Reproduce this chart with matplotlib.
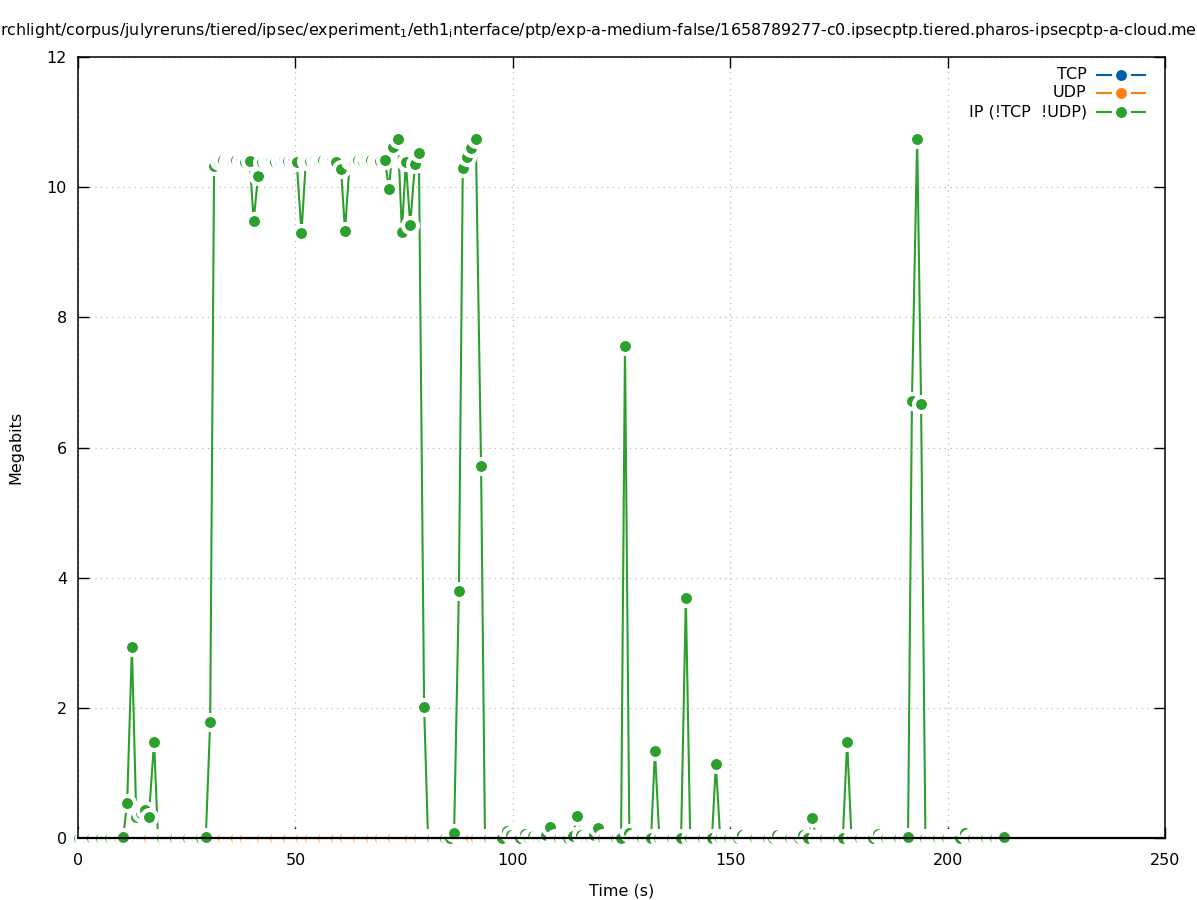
import matplotlib
matplotlib.use("Agg")
import matplotlib.pyplot as plt
from matplotlib.lines import Line2D

# ---------------- data ----------------
time_s = [
    0.3, 1.3, 2.3, 3.3, 4.3, 5.3, 6.4, 7.4, 8.4, 9.4,
    10.4, 11.3, 12.4, 13.4, 14.4, 15.4, 16.3, 17.5, 18.4, 19.4,
    20.4, 21.4, 22.4, 23.4, 24.4, 25.4, 26.4, 27.4, 28.4, 29.4,
    30.4, 31.3, 32.4, 33.4, 34.4, 35.4, 36.4, 37.4, 38.4, 39.5,
    40.4, 41.4, 42.4, 43.4, 44.4, 45.4, 46.4, 47.4, 48.4, 49.4,
    50.3, 51.4, 52.4, 53.4, 54.4, 55.4, 56.4, 57.4, 58.4, 59.4,
    60.5, 61.4, 62.5, 63.5, 64.5, 65.5, 66.5, 67.5, 68.5, 69.5,
    70.6, 71.5, 72.4, 73.6, 74.5, 75.4, 76.4, 77.5, 78.4, 79.6,
    80.5, 81.5, 82.5, 83.5, 84.5, 85.5, 86.5, 87.6, 88.5, 89.5,
    90.4, 91.5, 92.7, 93.6, 94.6, 95.6, 96.6, 97.6, 98.7, 99.7,
    100.7, 101.7, 102.7, 103.7, 104.7, 105.7, 106.7, 107.7, 108.6, 109.7,
    110.7, 111.7, 112.8, 113.8, 114.8, 115.8, 116.8, 117.7, 118.7, 119.6,
    120.7, 121.8, 122.8, 123.8, 124.9, 125.8, 126.8, 127.8, 128.8, 129.8,
    130.8, 131.8, 132.7, 133.7, 134.7, 135.7, 136.7, 137.7, 138.7, 139.8,
    140.8, 141.8, 142.8, 143.8, 144.8, 145.8, 146.7, 147.7, 148.8, 149.8,
    150.8, 151.8, 152.8, 153.8, 154.8, 155.8, 156.8, 157.8, 158.8, 159.8,
    160.8, 161.8, 162.8, 163.8, 164.8, 165.8, 166.8, 167.8, 168.8, 169.9,
    170.9, 171.9, 172.9, 173.9, 174.9, 175.9, 176.9, 177.9, 178.9, 179.9,
    180.9, 181.9, 182.9, 183.9, 184.9, 185.9, 186.9, 187.9, 188.9, 189.9,
    190.9, 191.8, 193.0, 193.9, 194.9, 195.9, 196.9, 197.9, 198.9, 199.9,
    200.9, 201.9, 202.9, 203.9, 204.9, 205.9, 206.9, 207.9, 208.9, 209.9,
    211.0, 212.0, 213.0,
]

ip_mbits = [
    0, 0, 0, 0, 0, 0, 0, 0, 0, 0,
    0.02, 0.54, 2.93, 0.33, 0.38, 0.43, 0.33, 1.48, 0, 0,
    0, 0, 0, 0, 0, 0, 0, 0, 0, 0.02,
    1.78, 10.33, 10.40, 10.41, 10.40, 10.40, 10.42, 10.40, 10.39, 10.40,
    9.48, 10.17, 10.39, 10.40, 10.40, 10.38, 10.40, 10.41, 10.40, 10.40,
    10.39, 9.30, 10.40, 10.40, 10.41, 10.40, 10.42, 10.40, 10.40, 10.39,
    10.28, 9.33, 10.40, 10.40, 10.41, 10.40, 10.43, 10.41, 10.40, 10.40,
    10.42, 9.97, 10.62, 10.74, 9.31, 10.39, 9.42, 10.36, 10.52, 2.02,
    0, 0, 0, 0, 0, 0, 0.07, 3.80, 10.30, 10.46,
    10.60, 10.74, 5.72, 0, 0, 0, 0, 0, 0.10, 0.05,
    0, 0, 0.06, 0, 0.03, 0, 0.02, 0.05, 0.17, 0,
    0, 0, 0, 0.03, 0.34, 0.05, 0, 0.02, 0.05, 0.15,
    0, 0, 0, 0, 0, 7.56, 0.08, 0, 0, 0,
    0, 0, 1.34, 0, 0, 0, 0, 0, 0, 3.69,
    0, 0, 0, 0, 0, 0, 1.14, 0, 0, 0,
    0, 0, 0.05, 0, 0, 0, 0, 0, 0, 0,
    0.05, 0, 0, 0, 0, 0, 0.05, 0, 0.30, 0,
    0, 0, 0, 0, 0, 0, 1.48, 0, 0, 0,
    0, 0, 0, 0.06, 0, 0, 0, 0, 0, 0,
    0.02, 6.72, 10.74, 6.67, 0, 0, 0, 0, 0, 0,
    0, 0, 0, 0.07, 0, 0, 0, 0, 0, 0,
    0, 0, 0.02,
]

tcp_mbits = [0.0] * len(time_s)
udp_mbits = [0.0] * len(time_s)

series_labels = ["TCP", "UDP", "IP (!TCP  !UDP)"]
series_colors = ["#0060ad", "#ff7f0e", "#2ca02c"]

x_ticks = [0, 50, 100, 150, 200, 250]
y_ticks = [0, 2, 4, 6, 8, 10, 12]

title_text = ("rchlight/corpus/julyreruns/tiered/ipsec/experiment$_1$/eth1$_\\mathregular{i}$nterface/ptp/"
              "exp-a-medium-false/1658789277-c0.ipsecptp.tiered.pharos-ipsecptp-a-cloud.me")

# ---------------- figure ----------------
W, H = 1197, 900
fig = plt.figure(figsize=(W / 100, H / 100), dpi=100)
ax = fig.add_axes([78 / W, 1 - 838 / H, (1165 - 78) / W, (838 - 57) / H])

FS = 11.5
LW = 1.5
MS = 10.8
MEW = 2.9

for vals, col, z in zip([tcp_mbits, udp_mbits, ip_mbits], series_colors, [3, 3.1, 3.2]):
    ax.plot(time_s, vals, color=col, lw=LW, marker="o", ms=MS, mfc=col,
            mec="white", mew=MEW, zorder=z, clip_on=False)

ax.set_xlim(0, 250)
ax.set_ylim(0, 12)
ax.set_xticks(x_ticks)
ax.set_yticks(y_ticks)
ax.tick_params(direction="in", length=8, width=1, top=True, right=True,
               labelsize=FS, color="black")
ax.tick_params(axis="x", pad=11)
ax.tick_params(axis="y", pad=8)
ax.grid(True, color="#b8b8b8", lw=0.9, linestyle=(0, (1, 3.5)))
ax.set_axisbelow(True)
for s in ax.spines.values():
    s.set_linewidth(1.1)
    s.set_zorder(10)
ax.spines["bottom"].set_linewidth(1.6)

ax.set_xlabel("Time (s)", fontsize=FS, labelpad=11)
ax.set_ylabel("Megabits", fontsize=FS, labelpad=17)

# manual gnuplot-style legend (text right-aligned, sample on the right)
leg_y = [0.977, 0.954, 0.9296]
for lab, col, yy in zip(series_labels, series_colors, leg_y):
    ax.text(0.928, yy, lab, transform=ax.transAxes, ha="right", va="center",
            fontsize=FS, zorder=20)
    ax.add_line(Line2D([0.9374, 0.9816], [yy, yy], transform=ax.transAxes,
                       color=col, lw=LW, zorder=20, clip_on=False))
    ax.add_line(Line2D([0.9595], [yy], transform=ax.transAxes, color=col,
                       marker="o", ms=MS, mfc=col, mec="white", mew=MEW,
                       zorder=21, clip_on=False, lw=0))

# title, scaled to span the figure width
t = fig.text(0.5, 1 - 30 / H, title_text, ha="center", va="center", fontsize=12)
fig.canvas.draw()
bb = t.get_window_extent()
t.set_fontsize(12 * (W - 6) / bb.width)

fig.savefig("out.png", dpi=100)
